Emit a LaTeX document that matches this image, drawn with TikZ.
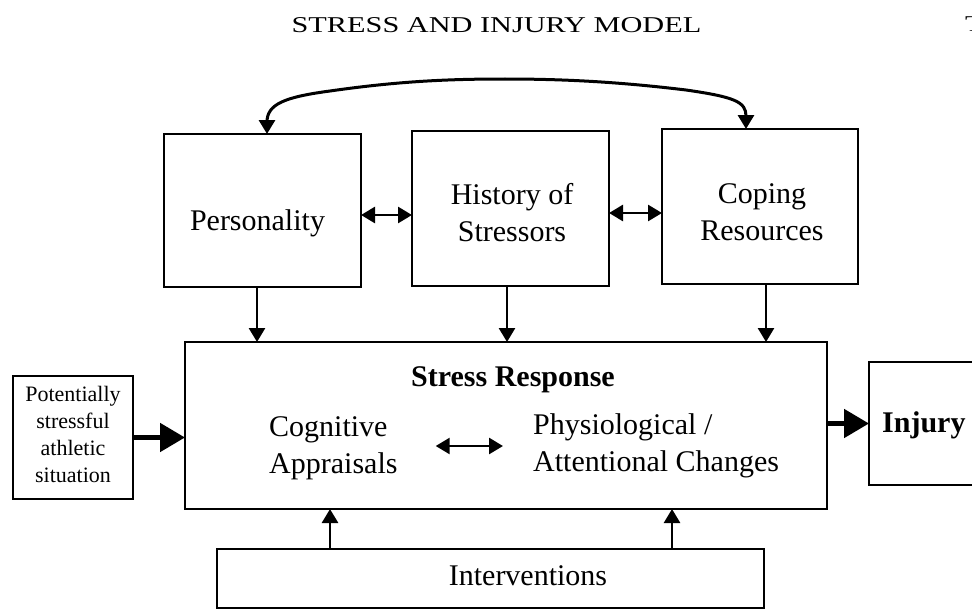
\documentclass[tikz,border=0pt]{standalone}
\usepackage{fontspec}
\usepackage{graphicx}
\setmainfont{Liberation Serif}
\usetikzlibrary{arrows.meta,calc}
\begin{document}
\begin{tikzpicture}[x=1pt,y=-1pt,
  box/.style={draw, line width=2.8pt, inner sep=0pt, outer sep=0pt},
  lbl/.style={font=\fontsize{30}{37}\selectfont, align=center, inner sep=0pt},
  lbll/.style={font=\fontsize{30}{37}\selectfont, align=left, inner sep=0pt},
  small/.style={font=\fontsize{22}{26.7}\selectfont, align=center, inner sep=0pt},
  conn/.style={line width=2.6pt, -{Triangle[length=14pt,width=16pt]}},
  dconn/.style={line width=2.6pt, {Triangle[length=14pt,width=16pt]}-{Triangle[length=14pt,width=16pt]}},
  bigarrow/.style={line width=5pt, -{Triangle[length=25pt,width=28pt]}},
  titlefont/.style={font=\fontsize{22.6}{26}\selectfont, inner sep=0pt}
]
\useasboundingbox (0,0) rectangle (972,610);
\fill[white] (0,0) rectangle (972,610);

% title
\node[titlefont] (title) at (496.5,25.5) {\scalebox{1.34}[1]{STRESS AND INJURY MODEL}};
\node[titlefont, anchor=north west] (pagemark) at (965,17) {\scalebox{1.34}[1]{T}};

% boxes
\node[box, minimum width=197pt, minimum height=153pt] (pers) at (262.5,210.5) {};
\node[box, minimum width=197pt, minimum height=155pt] (hist) at (510.5,208.5) {};
\node[box, minimum width=196pt, minimum height=155pt] (cope) at (760,206.5) {};
\node[box, minimum width=642pt, minimum height=167pt] (stress) at (506,425.5) {};
\node[box, minimum width=120pt, minimum height=123pt] (pot) at (73,437.5) {};
\node[box, minimum width=131pt, minimum height=123pt] (inj) at (934.5,423.5) {};
\node[box, minimum width=547pt, minimum height=59pt] (inter) at (490.5,578.5) {};

% texts
\node[lbl] (perstxt) at (257.5,223) {Personality};
\node[lbl] (histtxt) at (512,213) {History of\\Stressors};
\node[lbl] (copetxt) at (762,212.5) {Coping\\Resources};
\node[lbl, font=\fontsize{30}{37}\selectfont\bfseries] (stresstxt) at (513,379.5) {Stress Response};
\node[lbll, anchor=west] (cog) at (269,448) {Cognitive\\Appraisals};
\node[lbll, anchor=west] (phys) at (533,446) {Physiological /\\Attentional Changes};
\node[small] (pottxt) at (73,434.5) {Potentially\\stressful\\athletic\\situation};
\node[lbl, font=\fontsize{30}{37}\selectfont\bfseries, anchor=west] (injtxt) at (882,425) {Injury};
\node[lbl] (intertxt) at (528,576) {Interventions};

% curved arrow on top
\coordinate (cl) at ($(pers.north)+(4.5,0)$);
\coordinate (cr) at ($(cope.north)+(-14,0)$);
\draw[dconn, line width=3pt] (cl) -- (267,122)
  .. controls (267,104) and (285,97) .. (330,91)
  .. controls (400,81) and (450,79) .. (505,79)
  .. controls (565,79) and (620,82) .. (686,90)
  .. controls (735,97) and (746,102) .. (746,116) -- (cr);

% horizontal double arrows
\coordinate (ph) at ($(pers.east)+(0,4.5)$);
\draw[dconn] (ph) -- (ph -| hist.west);
\coordinate (hc) at ($(hist.east)+(0,4.5)$);
\draw[dconn] (hc) -- (hc -| cope.west);

% down arrows
\coordinate (pd) at ($(pers.south)+(-5.5,0)$);
\draw[conn] (pd) -- (pd |- stress.north);
\coordinate (hd) at ($(hist.south)+(-3.5,0)$);
\draw[conn] (hd) -- (hd |- stress.north);
\coordinate (cd) at ($(cope.south)+(6,0)$);
\draw[conn] (cd) -- (cd |- stress.north);

% up arrows from interventions
\coordinate (ua) at ($(inter.north)+(-160.5,0)$);
\draw[conn] (ua) -- (ua |- stress.south);
\coordinate (ub) at ($(inter.north)+(181.5,0)$);
\draw[conn] (ub) -- (ub |- stress.south);

% inner double arrow
\draw[dconn] ($(cog.east)+(38,-2)$) -- ($(phys.west)+(-30,0)$);

% thick arrows
\draw[bigarrow] (pot.east) -- (pot.east -| stress.west);
\draw[bigarrow] (inj.west -| stress.east) -- (inj.west);
\end{tikzpicture}
\end{document}
